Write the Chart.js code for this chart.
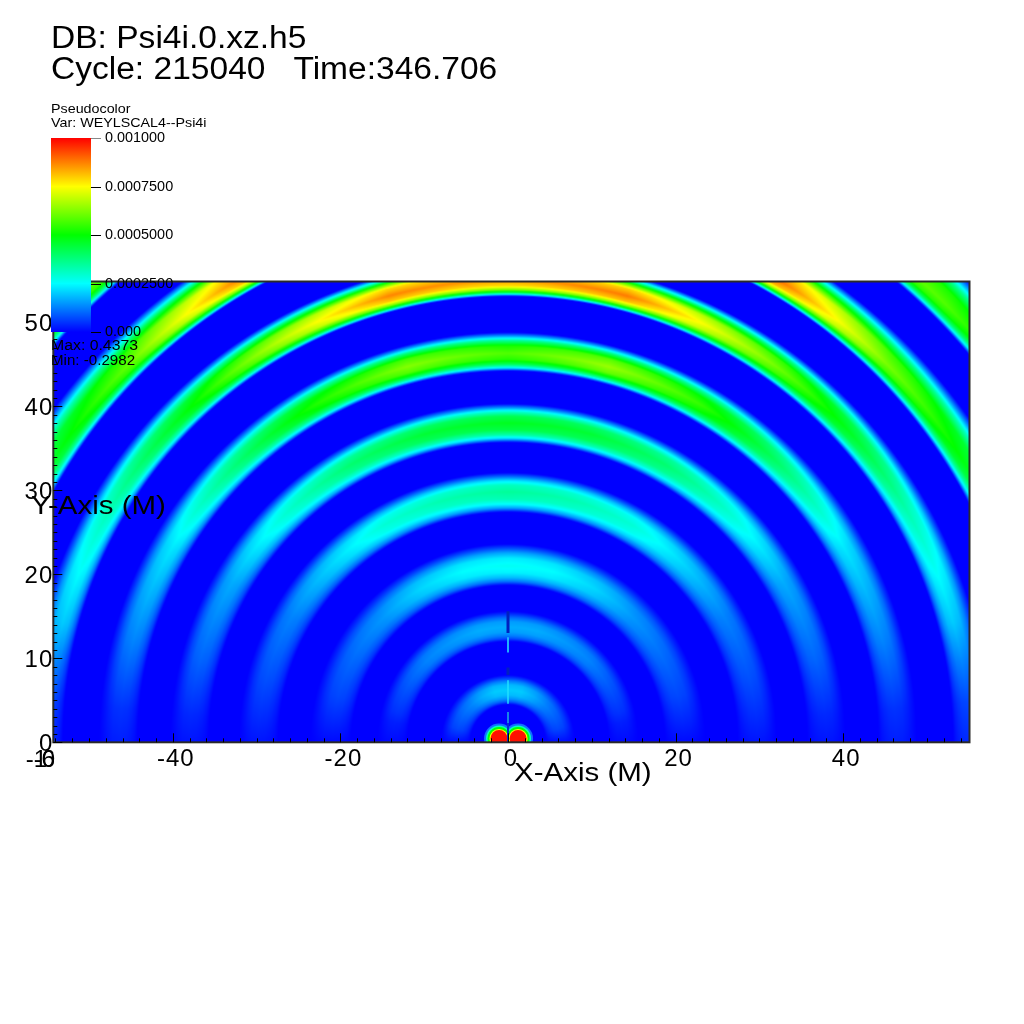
<!DOCTYPE html>
<html>
<head>
<meta charset="utf-8">
<style>
html, body { margin: 0; padding: 0; background: #fff; }
#wrap { width: 1024px; height: 1024px; }
</style>
<script src="https://cdn.jsdelivr.net/npm/chart.js@4"></script>
</head>
<body>
<div id="wrap"><canvas id="plot" width="1024" height="1024"></canvas></div>
<script>
// ==================== DATA ====================
// Field values are in units of 0.001, so 1 is the top of the colour bar
const titleLines = ['DB: Psi4i.0.xz.h5', 'Cycle: 215040   Time:346.706'];
const legendLines = ['Pseudocolor', 'Var: WEYLSCAL4--Psi4i'];
const statLines = ['Max: 0.4373', 'Min: -0.2982'];
const barTickValues = [1, 0.75, 0.5, 0.25, 0];
const barTickLabels = ['0.001000', '0.0007500', '0.0005000', '0.0002500', '0.000'];
const barStops = ['#0000ff', '#00ffff', '#00ff00', '#ffff00', '#ff0000'];

const xRange = [-54.26, 55.07];
const yRange = [0, 54.86];

// wave crests: radius of the crest, and how far it reaches in and out
const ringRadius = [6.2, 13.7, 21.0, 29.8, 38.0, 46.3, 55.0, 63.8, 73.8];
const ringInner = [1.7, 1.7, 2.3, 2.4, 2.3, 2.1, 1.9, 1.9, 2.0];
const ringOuter = [1.8, 1.9, 2.6, 2.3, 2.3, 2.5, 2.5, 3.4, 3.9];

// crest height at these angles (degrees, 0 is the +x axis)
const ringAngles = [0, 5, 10, 15, 30, 45, 60, 75, 90, 105, 120, 135, 150, 165, 170, 175, 180];
const ring1Peak = [.01, .03, .05, .07, .10, .13, .17, .20, .20, .20, .17, .13, .10, .07, .05, .03, .01];
const ring2Peak = [.01, .02, .03, .05, .09, .13, .15, .17, .17, .17, .15, .13, .09, .05, .03, .02, .01];
const ring3Peak = [.01, .03, .05, .07, .11, .15, .21, .25, .26, .25, .21, .15, .11, .07, .05, .03, .01];
const ring4Peak = [.02, .04, .06, .08, .13, .21, .29, .33, .35, .33, .29, .21, .13, .08, .06, .04, .02];
const ring5Peak = [.02, .04, .07, .10, .17, .29, .39, .45, .47, .45, .39, .29, .17, .10, .07, .04, .02];
const ring6Peak = [.03, .05, .09, .13, .23, .39, .55, .65, .58, .63, .53, .38, .23, .13, .09, .05, .03];
const ring7Peak = [.04, .07, .13, .20, .33, .50, .68, .88, .85, .87, .68, .48, .32, .20, .13, .07, .04];
const ring8Peak = [.05, .10, .16, .24, .47, .62, .90, .92, .90, .92, .88, .60, .45, .24, .16, .10, .05];
const ring9Peak = [.05, .10, .16, .24, .40, .58, .64, .62, .62, .62, .64, .58, .40, .24, .16, .10, .05];
const ringPeaks = [ring1Peak, ring2Peak, ring3Peak, ring4Peak, ring5Peak, ring6Peak, ring7Peak, ring8Peak, ring9Peak];

// cross section of a crest: -1 inner edge, 0 top, 1 outer edge
const profileOffset = [-1, -0.8, -0.6, -0.35, 0, 0.35, 0.6, 0.8, 1];
const profileShare = [0, 0.45, 0.72, 0.92, 1, 0.9, 0.62, 0.3, 0];

// the two holes on the axis
const holeX = [-1.07, 1.2];
const holeY = [0.45, 0.45];

// seam along the z axis, each piece runs from yFrom to yTo at x = 0
const seamFrom = [0, 13.0, 8.0, 10.7, 4.6, 2.3];
const seamTo = [2.3, 15.6, 8.9, 12.5, 7.4, 3.6];
const seamColours = ['#0030d0', '#0020c0', '#0020c0', '#20b0ff', '#20e0ff', '#20b0e0'];
const seamWidths = [2, 3, 3, 2, 1.5, 1.5];

const xTickMajor = 20;
const yTickMajor = 10;

// ==================== COLOUR ====================
function colourFor(v) {
    const t = Math.max(0, Math.min(1, v)) * 4;
    if (t < 1) return [0, 255 * t, 255];
    if (t < 2) return [0, 255, 255 * (2 - t)];
    if (t < 3) return [255 * (t - 2), 255, 0];
    return [255, 255 * (4 - t), 0];
}

function lookup(xs, ys, x) {
    if (x <= xs[0]) return ys[0];
    for (let i = 1; i < xs.length; i++) {
        if (x <= xs[i]) {
            const f = (x - xs[i - 1]) / (xs[i] - xs[i - 1]);
            return ys[i - 1] + f * (ys[i] - ys[i - 1]);
        }
    }
    return ys[ys.length - 1];
}

function fieldAt(x, y) {
    const r = Math.hypot(x, y);
    const ang = Math.atan2(y, x) * 180 / Math.PI;
    let best = 0;
    ringRadius.forEach((r0, i) => {
        const d = r - r0;
        const off = d < 0 ? d / ringInner[i] : d / ringOuter[i];
        if (Math.abs(off) >= 1) return;
        const v = lookup(ringAngles, ringPeaks[i], ang) * lookup(profileOffset, profileShare, off);
        if (v > best) best = v;
    });
    return best;
}

// ==================== PLUGINS ====================
const fieldPlugin = {
    id: 'field',
    beforeDraw(chart) {
        chart.ctx.letterSpacing = '1px';
    },
    beforeDatasetsDraw(chart) {
        const { ctx, chartArea: a, scales } = chart;
        const w = Math.round(a.right - a.left);
        const h = Math.round(a.bottom - a.top);
        const off = document.createElement('canvas');
        off.width = w;
        off.height = h;
        const oc = off.getContext('2d');
        const img = oc.createImageData(w, h);
        for (let j = 0; j < h; j++) {
            const y = scales.y.getValueForPixel(a.top + j + 0.5);
            for (let i = 0; i < w; i++) {
                const x = scales.x.getValueForPixel(a.left + i + 0.5);
                const c = colourFor(fieldAt(x, y));
                const k = (j * w + i) * 4;
                img.data[k] = c[0];
                img.data[k + 1] = c[1];
                img.data[k + 2] = c[2];
                img.data[k + 3] = 255;
            }
        }
        oc.putImageData(img, 0, 0);
        ctx.drawImage(off, a.left, a.top);
    }
};

// the original font runs wider than Liberation Sans
function wideText(ctx, text, x, y, stretch) {
    ctx.save();
    ctx.translate(x, y);
    ctx.scale(stretch, 1);
    ctx.fillText(text, 0, 0);
    ctx.restore();
}

const framePlugin = {
    id: 'frame',
    afterDatasetsDraw(chart) {
        const { ctx, chartArea: a, scales } = chart;
        ctx.save();
        ctx.strokeStyle = '#2a2a2a';
        ctx.lineWidth = 2;
        ctx.strokeRect(a.left, a.top, a.right - a.left, a.bottom - a.top);
        // ticks point into the plot
        ctx.strokeStyle = '#000';
        ctx.lineWidth = 1;
        ctx.beginPath();
        scales.x.ticks.forEach(t => {
            const px = Math.round(scales.x.getPixelForValue(t.value)) + 0.5;
            ctx.moveTo(px, a.bottom);
            ctx.lineTo(px, a.bottom - (t.value % xTickMajor === 0 ? 9 : 4));
        });
        scales.y.ticks.forEach(t => {
            const py = Math.round(scales.y.getPixelForValue(t.value)) + 0.5;
            ctx.moveTo(a.left, py);
            ctx.lineTo(a.left + (t.value % yTickMajor === 0 ? 9 : 4), py);
        });
        ctx.stroke();
        ctx.restore();
    },
    afterDraw(chart) {
        const { ctx } = chart;
        ctx.save();
        ctx.letterSpacing = '0px';
        ctx.fillStyle = '#000';
        ctx.textBaseline = 'alphabetic';

        // header
        ctx.font = '31px "Liberation Sans"';
        wideText(ctx, titleLines[0], 51, 48, 1.082);
        wideText(ctx, titleLines[1], 51, 79, 1.082);

        // colour bar
        const barL = 51, barR = 91, barT = 138, barB = 332;
        const grad = ctx.createLinearGradient(0, barB, 0, barT);
        barStops.forEach((c, i) => grad.addColorStop(i / (barStops.length - 1), c));
        ctx.fillStyle = grad;
        ctx.fillRect(barL, barT, barR - barL, barB - barT);

        ctx.fillStyle = '#000';
        ctx.font = '13px "Liberation Sans"';
        wideText(ctx, legendLines[0], 51, 113, 1.1);
        wideText(ctx, legendLines[1], 51, 127, 1.1);

        ctx.font = '14px "Liberation Sans"';
        barTickValues.forEach((v, i) => {
            const py = barB - v * (barB - barT);
            ctx.fillStyle = i === 0 ? '#888' : '#000';
            ctx.fillRect(barR, Math.round(py), 10, 1);
            ctx.fillStyle = '#000';
            wideText(ctx, barTickLabels[i], 105, py + 4, 1.03);
        });
        wideText(ctx, statLines[0], 51, 350, 1.13);
        wideText(ctx, statLines[1], 51, 365, 1.08);

        // axis titles sit on top of everything
        ctx.font = '25px "Liberation Sans"';
        wideText(ctx, 'X-Axis (M)', 514, 781, 1.18);
        wideText(ctx, 'Y-Axis (M)', 31, 514, 1.18);

        // labels stacked on the lower left corner
        ctx.font = '24px "Liberation Sans"';
        ctx.textAlign = 'right';
        ctx.fillText('-6', 55, 767);
        ctx.fillText('0', 55, 767);
        ctx.fillText('-1', 47, 767);
        ctx.restore();
    }
};

// ==================== CHART ====================
const toPoints = (xs, ys) => xs.map((x, i) => ({ x: x, y: ys[i] }));
const holePoints = toPoints(holeX, holeY);

function holeLayer(colour, radius) {
    return { type: 'scatter', data: holePoints, backgroundColor: colour, borderWidth: 0, pointRadius: radius };
}

function seamPiece(i) {
    return {
        type: 'line',
        data: [{ x: 0, y: seamFrom[i] }, { x: 0, y: seamTo[i] }],
        borderColor: seamColours[i],
        borderWidth: seamWidths[i],
        pointRadius: 0
    };
}

const ctx = document.getElementById('plot').getContext('2d');
const chart = new Chart(ctx, {
    type: 'scatter',
    data: {
        datasets: [
            // first dataset ends up on top
            ...seamFrom.map((v, i) => seamPiece(i)),
            holeLayer('#ff1000', 8.5),
            holeLayer('#ffff00', 9.5),
            holeLayer('#00ff00', 11.5),
            holeLayer('#00ffc0', 13),
            holeLayer('#1070ff', 15)
        ]
    },
    options: {
        responsive: false,
        animation: false,
        devicePixelRatio: 1,
        layout: { padding: { left: 0.3, top: 281.5, right: 54.5, bottom: 0 } },
        plugins: { legend: { display: false }, tooltip: { enabled: false } },
        scales: {
            x: {
                type: 'linear',
                min: xRange[0],
                max: xRange[1],
                afterFit: s => { s.height = 1024 - 742.3; },
                grid: { display: false, drawTicks: false },
                border: { display: false },
                ticks: {
                    stepSize: 2,
                    includeBounds: false,
                    autoSkip: false,
                    maxRotation: 0,
                    padding: 3,
                    labelOffset: 3,
                    color: '#000',
                    font: { family: 'Liberation Sans', size: 24 },
                    callback: v => (v % xTickMajor === 0 ? String(v) : '')
                }
            },
            y: {
                type: 'linear',
                min: yRange[0],
                max: yRange[1],
                afterFit: s => { s.width = 53; },
                grid: { display: false, drawTicks: false },
                border: { display: false },
                ticks: {
                    stepSize: 1,
                    includeBounds: false,
                    autoSkip: false,
                    padding: 0,
                    labelOffset: 2,
                    color: '#000',
                    font: { family: 'Liberation Sans', size: 24 },
                    callback: v => (v % yTickMajor === 0 ? String(v) : '')
                }
            }
        }
    },
    plugins: [fieldPlugin, framePlugin]
});
</script>
</body>
</html>
